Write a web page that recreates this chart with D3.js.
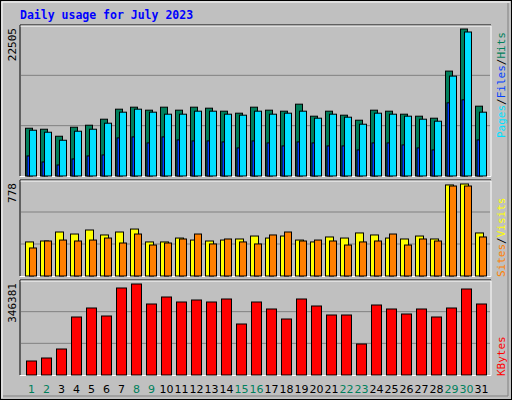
<!DOCTYPE html>
<html><head><meta charset="utf-8">
<script src="https://cdn.jsdelivr.net/npm/d3@7"></script>
<style>body{margin:0;background:#fff}</style></head><body>
<script>
const days=d3.range(1,32).map(String);
const weekend=["1","2","8","9","15","16","22","23","29","30"];
const hits=[7314,7161,6087,7468,7775,8696,10230,10537,10077,10537,10077,10537,10383,9923,9616,10537,10077,9923,10997,9156,9923,9309,8542,10077,9923,9463,9156,8849,16061,22505,10690];
const files=[7008,6701,5473,6854,7161,8082,9770,10230,9770,9463,9463,9923,9923,9463,9309,9923,9463,9616,9923,8849,9463,9002,7928,9616,9463,9156,8696,8389,15294,22046,9770];
const pages=[3069,2148,1688,2609,3069,3222,5831,5985,5064,5985,5524,5371,5371,5217,4297,5371,5064,4604,5217,5064,4604,4604,3990,5064,5064,4757,4297,3990,11202,11662,5524];
const visits=[288,296,372,355,389,347,372,397,288,288,321,304,296,304,313,338,321,338,304,288,330,321,364,347,321,313,338,313,770,778,364];
const sites=[237,296,304,296,304,321,279,355,262,279,313,355,271,313,288,271,347,372,296,304,296,262,288,296,355,262,313,296,761,761,330];
const kbytes=[53290,64709,98966,220771,255029,224578,331157,346381,270254,296899,277867,285480,277867,289286,194126,277867,251222,213158,289286,262642,228384,228384,117998,266448,251222,232190,251222,220771,255029,327350,270254];

const W=512,H=400;
const svg=d3.select("body").append("svg").attr("width",W).attr("height",H);
svg.append("rect").attr("x",0.5).attr("y",0.5).attr("width",W-1).attr("height",H-1).attr("fill","#c0c0c0").attr("stroke","#000");
svg.append("path").attr("d","M2,398V2H510").attr("stroke","#fff").attr("fill","none");
svg.append("path").attr("d","M3,396H508V3").attr("stroke","#808080").attr("fill","none");
svg.append("text").attr("x",20).attr("y",19).text("Daily usage for July 2023")
  .attr("font-family","DejaVu Sans Mono").attr("font-weight","bold").attr("font-size",11.5).attr("fill","#0000ff");

const x=d3.scaleBand().domain(days).range([20,485]);
const fs="DejaVu Sans Mono";
function panel(top,bot,max){
  svg.append("rect").attr("x",20).attr("y",top).attr("width",471).attr("height",bot-top).attr("fill","#c0c0c0");
  const y=d3.scaleLinear().domain([0,max]).range([bot,top+4]);
  const h=bot-top;
  [1/3,2/3].forEach(f=>svg.append("line").attr("x1",21).attr("x2",490).attr("y1",bot-h*f).attr("y2",bot-h*f).attr("stroke","#808080"));
  svg.append("path").attr("d",`M20,${bot}V${top}H491`).attr("stroke","#000").attr("fill","none");
  svg.append("path").attr("d",`M20.5,${top+1}H491V${bot+0.5}H20`).attr("stroke","#fff").attr("fill","none");
  svg.append("text").attr("transform",`translate(16,${top+3}) rotate(-90)`).attr("text-anchor","end")
    .attr("font-family",fs).attr("font-size",11).attr("fill","#000").text(d3.format("d")(max));
  return y;
}
function bars(y,data,off,w,color,stroke){
  svg.append("g").selectAll("rect").data(data).join("rect")
   .attr("x",(d,i)=>x(days[i])+off).attr("width",w)
   .attr("y",d=>y(d)).attr("height",d=>y(0)-y(d))
   .attr("fill",color).attr("stroke",stroke?"#000":"none").attr("stroke-width",1);
}
const y1=panel(25,176,d3.max(hits));
bars(y1,hits,5.5,7,"#00805c",true);
bars(y1,files,9.5,7,"#00e0ff",true);
bars(y1,pages,7,2.5,"#0040ff",true);
const y2=panel(180,276,d3.max(visits));
bars(y2,visits,5.5,8,"#ffff00",true);
bars(y2,sites,9.5,7,"#ff8000",true);
const y3=panel(280,375,d3.max(kbytes));
bars(y3,kbytes,6.5,10,"#ff0000",true);

svg.append("g").selectAll("text").data(days).join("text")
  .attr("x",d=>x(d)+x.bandwidth()/2+4).attr("y",393).attr("text-anchor","middle")
  .attr("font-family","DejaVu Sans").attr("font-size",11)
  .attr("fill",d=>weekend.includes(d)?"#00805c":"#000").text(d=>d);

function vlabel(yy,parts){
  const t=svg.append("text").attr("transform",`translate(505,${yy}) rotate(-90)`)
   .attr("font-family",fs).attr("font-size",11);
  parts.forEach(p=>t.append("tspan").attr("fill",p[1]).text(p[0]));
}
vlabel(138,[["Pages","#00e0ff"],["/","#000"],["Files","#0040ff"],["/","#000"],["Hits","#00805c"]]);
vlabel(277,[["Sites","#ff8000"],["/","#000"],["Visits","#ffff00"]]);
vlabel(376,[["KBytes","#ff0000"]]);
</script></body></html>
